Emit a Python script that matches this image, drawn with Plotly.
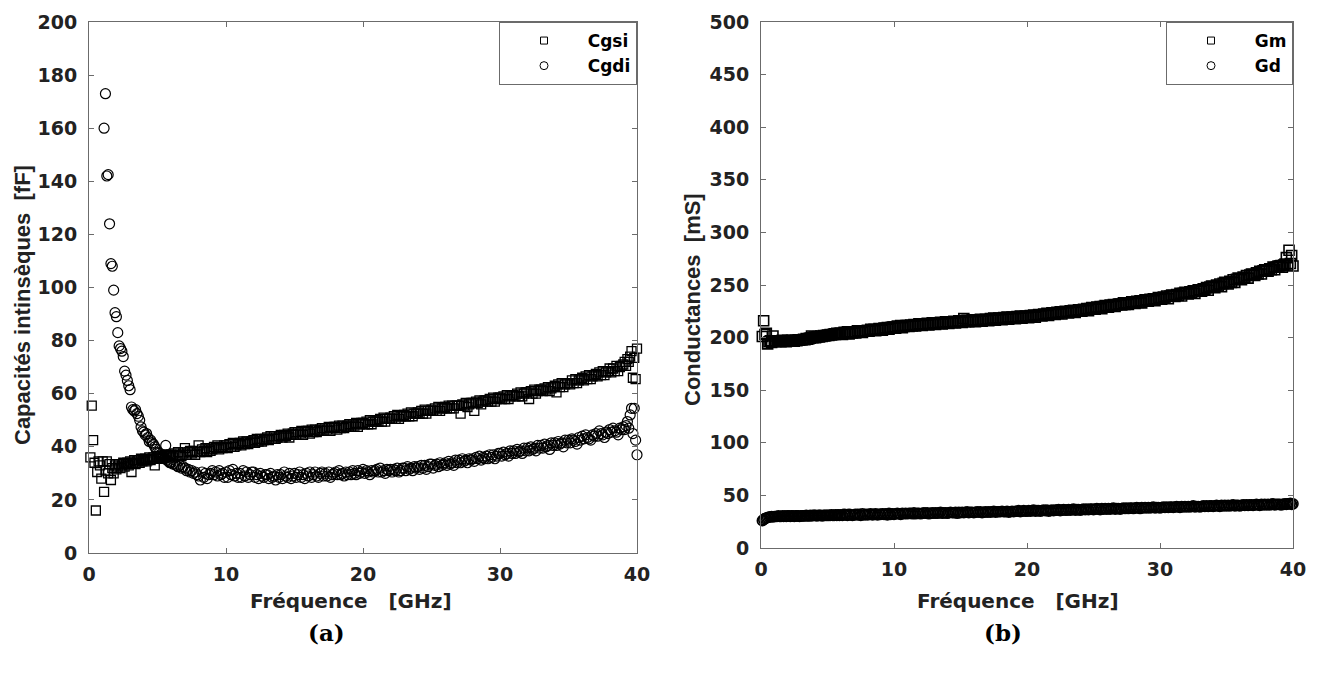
import plotly.graph_objects as go

# ---------------- data ----------------
freq = [
    0.1, 0.2, 0.3, 0.4, 0.5, 0.6, 0.7, 0.8, 0.9, 1.0,
    1.1, 1.2, 1.3, 1.4, 1.5, 1.6, 1.7, 1.8, 1.9, 2.0,
    2.1, 2.2, 2.3, 2.4, 2.5, 2.6, 2.7, 2.8, 2.9, 3.0,
    3.1, 3.2, 3.3, 3.4, 3.5, 3.6, 3.7, 3.8, 3.9, 4.0,
    4.1, 4.2, 4.3, 4.4, 4.5, 4.6, 4.7, 4.8, 4.9, 5.0,
    5.1, 5.2, 5.3, 5.4, 5.5, 5.6, 5.7, 5.8, 5.9,
    6.0, 6.125, 6.25, 6.375, 6.5, 6.625, 6.75, 6.875,
    7.0, 7.125, 7.25, 7.375, 7.5, 7.625, 7.75, 7.875,
    8.0, 8.125, 8.25, 8.375, 8.5, 8.625, 8.75, 8.875,
    9.0, 9.125, 9.25, 9.375, 9.5, 9.625, 9.75, 9.875,
    10.0, 10.125, 10.25, 10.375, 10.5, 10.625, 10.75, 10.875,
    11.0, 11.125, 11.25, 11.375, 11.5, 11.625, 11.75, 11.875,
    12.0, 12.125, 12.25, 12.375, 12.5, 12.625, 12.75, 12.875,
    13.0, 13.125, 13.25, 13.375, 13.5, 13.625, 13.75, 13.875,
    14.0, 14.125, 14.25, 14.375, 14.5, 14.625, 14.75, 14.875,
    15.0, 15.125, 15.25, 15.375, 15.5, 15.625, 15.75, 15.875,
    16.0, 16.125, 16.25, 16.375, 16.5, 16.625, 16.75, 16.875,
    17.0, 17.125, 17.25, 17.375, 17.5, 17.625, 17.75, 17.875,
    18.0, 18.125, 18.25, 18.375, 18.5, 18.625, 18.75, 18.875,
    19.0, 19.125, 19.25, 19.375, 19.5, 19.625, 19.75, 19.875,
    20.0, 20.125, 20.25, 20.375, 20.5, 20.625, 20.75, 20.875,
    21.0, 21.125, 21.25, 21.375, 21.5, 21.625, 21.75, 21.875,
    22.0, 22.125, 22.25, 22.375, 22.5, 22.625, 22.75, 22.875,
    23.0, 23.125, 23.25, 23.375, 23.5, 23.625, 23.75, 23.875,
    24.0, 24.125, 24.25, 24.375, 24.5, 24.625, 24.75, 24.875,
    25.0, 25.125, 25.25, 25.375, 25.5, 25.625, 25.75, 25.875,
    26.0, 26.125, 26.25, 26.375, 26.5, 26.625, 26.75, 26.875,
    27.0, 27.125, 27.25, 27.375, 27.5, 27.625, 27.75, 27.875,
    28.0, 28.125, 28.25, 28.375, 28.5, 28.625, 28.75, 28.875,
    29.0, 29.125, 29.25, 29.375, 29.5, 29.625, 29.75, 29.875,
    30.0, 30.125, 30.25, 30.375, 30.5, 30.625, 30.75, 30.875,
    31.0, 31.125, 31.25, 31.375, 31.5, 31.625, 31.75, 31.875,
    32.0, 32.125, 32.25, 32.375, 32.5, 32.625, 32.75, 32.875,
    33.0, 33.125, 33.25, 33.375, 33.5, 33.625, 33.75, 33.875,
    34.0, 34.125, 34.25, 34.375, 34.5, 34.625, 34.75, 34.875,
    35.0, 35.125, 35.25, 35.375, 35.5, 35.625, 35.75, 35.875,
    36.0, 36.125, 36.25, 36.375, 36.5, 36.625, 36.75, 36.875,
    37.0, 37.125, 37.25, 37.375, 37.5, 37.625, 37.75, 37.875,
    38.0, 38.125, 38.25, 38.375, 38.5, 38.625, 38.75, 38.875,
    39.0, 39.1, 39.2, 39.3, 39.4, 39.5, 39.6, 39.7, 39.8, 39.9, 40.0,
]

cgsi = [
    36, 55.5, 42.5, 34, 16, 30.5, 34.5, 33, 28, 34.5,
    23, 31, 34.5, 30, 33.5, 27.5, 32, 30, 33, 31.5,
    32.5, 33.5, 32, 33, 34, 32.5, 33.5, 34, 33, 34.5,
    30.5, 34, 35, 33.5, 34.5, 35, 34, 35.5, 34.5, 35,
    35.5, 34.5, 35, 36, 35, 35.5, 36, 33, 35.5, 36,
    35.5, 36.5, 35.5, 36, 37, 36, 36.5, 37, 36.5,
    37, 36, 37.5, 36.5, 38, 37, 36.5, 37.5,
    39.5, 37, 38, 38.5, 37.5, 38.5, 37, 38,
    40.5, 38, 39, 38.5, 39.5, 38, 39, 38.5,
    39, 40, 39.5, 40.5, 39, 40, 39.5, 40.5,
    40.5, 39.5, 41, 40, 41.5, 40, 40.5, 41,
    41.5, 40.5, 42, 41, 42, 41, 41.5, 42,
    42.5, 41.5, 43, 42, 43, 42, 42.5, 43,
    43.5, 42.5, 44, 43, 44, 43, 43.5, 44,
    44.5, 43.5, 44.5, 44, 45, 43.5, 44.5, 45,
    45.5, 44.5, 45.5, 45, 46, 44.5, 45.5, 46,
    46, 45, 46.5, 45.5, 46.5, 45.5, 46, 46.5,
    47, 46, 47, 46.5, 47.5, 46, 47, 47.5,
    47.5, 46.5, 48, 47, 48, 47, 47.5, 48,
    48.5, 47.5, 48.5, 48, 49, 47.5, 48.5, 49,
    49, 48.5, 49.5, 48.5, 50, 48.5, 49.5, 49.5,
    50, 49.5, 50.5, 49.5, 51, 49.5, 50.5, 50.5,
    51, 50.5, 51.5, 50.5, 52, 50.5, 51.5, 51.5,
    52, 51.5, 52.5, 51.5, 53, 51.5, 52.5, 52.5,
    53, 52.5, 53.5, 52.5, 54, 52.5, 53.5, 53.5,
    54, 53.5, 54.5, 53.5, 55, 53.5, 54.5, 54.5,
    55, 54.5, 55.5, 54.5, 55.5, 54.5, 55.5, 55.5,
    55.5, 52.5, 56, 55.5, 56.5, 55, 56, 56.5,
    56.5, 53.5, 57, 56.5, 57.5, 56, 57, 57.5,
    57.5, 57, 58, 57, 58.5, 57, 58, 58.5,
    58.5, 58, 59, 58, 59.5, 58, 59, 59.5,
    59.5, 59, 60, 59, 60.5, 59, 60, 60.5,
    60.5, 58, 61, 60, 61.5, 60, 61, 61.5,
    61.5, 61, 62, 61.5, 62.5, 61, 62, 62.5,
    63, 60.5, 63.5, 62.5, 64, 62.5, 63.5, 64,
    64, 63.5, 65, 64, 65.5, 64, 65, 65.5,
    66, 65, 66.5, 65.5, 67, 65.5, 66.5, 67,
    67.5, 66.5, 68, 67, 68.5, 67, 68, 68.5,
    69.5, 68, 69.5, 68.5, 70.5, 68.5, 70, 70.5,
    71, 72, 70.5, 73, 72, 74, 76, 66, 73.5, 65.5, 77,
]

cgdi = [
    None, None, None, None, None, None, None, None, None, None,
    160, 173, 142, 142.5, 124, 109, 108, 99, 90.5, 89,
    83, 78, 77, 76, 74, 68.5, 67, 65, 63, 61.5,
    55, 54, 53.5, 54, 52.5, 51.5, 50, 47.5, 46, 45.5,
    44.5, 45, 43.5, 42, 42.5, 41.5, 41, 40, 39, 38,
    37.5, 37, 36.5, 36, 35.5, 40.5, 35, 34.5, 34,
    34, 33.5, 33.5, 33, 32.5, 33, 32, 32.5,
    32, 31, 31.5, 30.5, 31, 30, 30.5, 29.5,
    29, 27.5, 30.5, 28.5, 30, 28, 29.5, 30,
    31, 29.5, 30.5, 29, 31, 29.5, 30, 28.5,
    30.5, 28.5, 31, 29.5, 31.5, 29, 30, 28.5,
    30, 28.5, 31, 29, 30.5, 28.5, 29.5, 30.5,
    30.5, 28.5, 29.5, 28, 30, 29, 28.5, 29.5,
    29.5, 28, 30, 28.5, 29, 27.5, 29.5, 28.5,
    29.5, 28, 30.5, 29, 28.5, 30, 28, 29,
    30, 28.5, 29.5, 30.5, 28.5, 29.5, 28, 30,
    29, 30.5, 28.5, 29.5, 30.5, 29, 28.5, 30,
    30.5, 29, 30, 29, 30.5, 28.5, 29.5, 30,
    30.5, 29.5, 31, 29.5, 30, 29, 30.5, 29.5,
    30.5, 29.5, 31, 30, 29.5, 31, 30, 30.5,
    31.5, 30, 31, 30.5, 29.5, 31, 30.5, 31,
    31.5, 30.5, 32, 30.5, 31, 30, 31.5, 31,
    31.5, 30.5, 31.5, 31, 32, 30.5, 31, 32,
    32, 31, 32.5, 31.5, 32, 31, 32.5, 32,
    32.5, 31.5, 33, 32, 33, 31.5, 32.5, 33.5,
    33.5, 32, 33, 33.5, 32.5, 34, 33, 33.5,
    34, 33, 34.5, 33.5, 34, 33, 35, 34,
    35, 34, 35.5, 34.5, 35, 34, 35.5, 35,
    35.5, 34.5, 36, 35.5, 36.5, 35, 36, 35.5,
    36.5, 35.5, 37, 36, 37, 35.5, 36.5, 37.5,
    37.5, 36.5, 38, 37, 37.5, 36.5, 38.5, 37.5,
    38.5, 37.5, 39, 38, 38.5, 37.5, 39.5, 38.5,
    39.5, 38.5, 40, 39, 39.5, 38.5, 40.5, 39.5,
    40.5, 39.5, 41, 40, 40.5, 39, 41.5, 40.5,
    41.5, 40.5, 42, 41, 41.5, 40, 42.5, 41.5,
    42.5, 41.5, 43, 42.5, 42, 41, 43.5, 42.5,
    44, 43, 44.5, 43.5, 43, 42.5, 44.5, 44,
    45, 44, 46, 45, 44.5, 43.5, 45.5, 45,
    46.5, 45.5, 47, 46, 45.5, 44.5, 47, 46.5,
    47.5, 46.5, 48, 49.5, 47, 52, 54.5, 45, 54.5, 42.5, 37,
]

gm = [
    201, 216, 203, 204, 194, 196, 197, 195.5, 201.5, 196.5,
    196, 197, 196.5, 197, 196, 197.5, 196.5, 197, 196, 197.5,
    197, 196.5, 197.5, 197, 196.5, 197.5, 197, 198, 197.5, 198,
    198, 198.5, 198, 199, 198.5, 199, 199.5, 201.5, 200, 200.5,
    200, 200.5, 201, 200.5, 201.5, 201, 202, 201.5, 202, 202.5,
    202, 203, 202.5, 203, 203.5, 203, 204, 203.5, 204,
    204, 203, 205, 204, 205.5, 203.5, 205, 204.5,
    205.5, 204.5, 206.5, 205.5, 206.5, 205, 206.5, 206,
    207, 206, 208, 207, 208, 206.5, 207.5, 208.5,
    208, 207, 209, 208.5, 209.5, 208, 209.5, 210,
    210, 209, 211, 210, 211.5, 209.5, 210.5, 211.5,
    211.5, 210.5, 212, 211, 212.5, 211, 212, 213,
    212.5, 211.5, 213, 212.5, 213.5, 212, 213, 214,
    213.5, 212.5, 214, 213.5, 214.5, 213, 214, 215,
    214.5, 213.5, 215, 214.5, 215.5, 214, 215, 216,
    215.5, 214.5, 218, 215, 216.5, 215, 216, 217,
    216, 215, 217, 216, 217.5, 215.5, 216.5, 217.5,
    217, 216, 218, 217, 218.5, 216.5, 217.5, 218.5,
    218, 217, 219, 218, 219.5, 217.5, 218.5, 219.5,
    219, 218, 220, 219, 220.5, 218.5, 219.5, 220.5,
    220, 219, 221, 220, 221.5, 219.5, 221, 222,
    221.5, 220.5, 222.5, 221.5, 223, 221, 222.5, 223.5,
    223, 222, 224, 223, 224.5, 222.5, 224, 225,
    224.5, 223.5, 225.5, 224.5, 226, 224, 225.5, 226.5,
    226, 225, 227, 226, 227.5, 225.5, 227.5, 228.5,
    228, 227, 229, 228, 229.5, 227.5, 229.5, 230.5,
    230, 229, 231, 230, 231.5, 229.5, 231, 232,
    232, 231, 233, 231.5, 233, 231.5, 233, 234,
    233.5, 232.5, 234.5, 233.5, 235, 233, 235, 236,
    235.5, 234.5, 236.5, 235.5, 237, 235, 237, 238,
    237.5, 236.5, 238.5, 237.5, 239.5, 237, 239.5, 240.5,
    240, 239, 241, 240, 242, 239.5, 242, 243,
    242.5, 241.5, 243.5, 242.5, 244.5, 242, 244.5, 245.5,
    245, 244, 246.5, 245.5, 247.5, 245, 248, 249,
    248.5, 247.5, 250, 249, 251, 248.5, 251.5, 252.5,
    252, 251, 253.5, 252.5, 255, 252.5, 255.5, 256.5,
    256, 255, 257.5, 256.5, 259, 256.5, 259.5, 260.5,
    260, 259, 261.5, 260.5, 263, 260.5, 263.5, 264.5,
    264, 263, 265.5, 264.5, 267, 264.5, 267, 268,
    268, 268.5, 267, 269, 270, 276, 269, 283, 270.5, 278, 268,
]

gd = [
    26, 27, 28, 28.5, 29, 29.5, 29.5, 30, 29.5, 30,
    30, 30, 30.5, 30, 30, 30.5, 30, 30.5, 30, 30.5,
    30.5, 30, 30.5, 30.5, 30, 30.5, 30.5, 30.5, 30, 30.5,
    30.5, 30.5, 30.5, 31, 30.5, 30.5, 31, 30.5, 31, 31,
    31, 30.5, 31, 31, 31, 30.5, 31, 31, 31, 31,
    31, 31, 31.5, 31, 31, 31.5, 31, 31.5, 31,
    31.5, 31, 32, 31.5, 31, 32, 31.5, 31,
    31.5, 32, 31.5, 32, 31, 32.5, 31.5, 32,
    31.5, 32, 32.5, 31.5, 32, 32.5, 31.5, 32,
    32, 32.5, 32, 32.5, 31.5, 33, 32, 32.5,
    32, 32.5, 33, 32.5, 32, 33, 32.5, 33,
    32.5, 33, 33, 32.5, 33.5, 32.5, 33, 33,
    32.5, 33, 33.5, 33, 33.5, 32.5, 33, 33.5,
    33, 33.5, 33, 33.5, 34, 33, 33.5, 33.5,
    33, 33.5, 34, 33.5, 33.5, 34, 33, 34,
    33.5, 34, 33.5, 34, 34.5, 33.5, 34, 34,
    33.5, 34, 34.5, 34, 34.5, 33.5, 34, 34.5,
    34, 34.5, 34, 34.5, 35, 34, 34.5, 34.5,
    34.5, 35, 34.5, 34.5, 35, 34, 34.5, 35,
    34.5, 35, 35, 35.5, 34.5, 35, 35.5, 35,
    35, 35.5, 35, 35.5, 36, 35, 35.5, 35.5,
    35, 35.5, 36, 35.5, 36, 35, 35.5, 36,
    35.5, 36, 36, 36.5, 35.5, 36, 36.5, 36,
    36, 36.5, 36, 36.5, 37, 36, 36.5, 36.5,
    36, 36.5, 37, 36.5, 37, 36.5, 37, 37,
    36.5, 37, 37.5, 37, 36.5, 37.5, 37, 37.5,
    37, 37.5, 37, 37.5, 38, 37, 37.5, 37.5,
    37, 37.5, 38, 37.5, 38, 37.5, 38, 38,
    37.5, 38, 38.5, 38, 37.5, 38.5, 38, 38.5,
    38, 38.5, 38, 38.5, 39, 38, 38.5, 38.5,
    38, 38.5, 39, 38.5, 39, 38.5, 39, 39,
    38.5, 39, 39.5, 39, 38.5, 39.5, 39, 39.5,
    39, 39.5, 39, 39.5, 40, 39, 39.5, 39.5,
    39, 39.5, 40, 39.5, 40, 39.5, 40, 40,
    39.5, 40, 40.5, 40, 39.5, 40.5, 40, 40.5,
    40, 40.5, 40, 40.5, 41, 40, 40.5, 40.5,
    40, 40.5, 41, 40.5, 41, 40.5, 41, 41,
    40.5, 41, 41.5, 41, 40.5, 41.5, 41, 41.5,
    41, 41.5, 41, 41.5, 42, 41, 41.5, 41.5,
    41.5, 41, 41.5, 41.5, 42, 41.5, 42, 42, 42.5, 41.5, 42,
]

for name, s in [("cgsi", cgsi), ("cgdi", cgdi), ("gm", gm), ("gd", gd)]:
    assert len(s) == len(freq), (name, len(s), len(freq))

x_ticks = [0, 10, 20, 30, 40]
y1_ticks = [0, 20, 40, 60, 80, 100, 120, 140, 160, 180, 200]
y2_ticks = [0, 50, 100, 150, 200, 250, 300, 350, 400, 450, 500]

# ---------------- layout geometry (pixels) ----------------
W, H = 1319, 677
L1, R1, L2, R2 = 89, 637, 761, 1293
TOP, B1, B2 = 22, 553, 548

AX = "#6b6b6b"
TICKFONT = dict(family="DejaVu Sans", size=19, color="#222222", weight="bold")

fig = go.Figure()

def add_series(x, y, symbol, size, xa, ya, lw):
    fig.add_trace(go.Scatter(
        x=x, y=y, mode="markers", xaxis=xa, yaxis=ya, showlegend=False,
        cliponaxis=False,
        marker=dict(symbol=symbol, size=size, color="black",
                    line=dict(color="black", width=lw)),
    ))

def add_legend_entry(name, symbol, size, xa, ya, leg):
    fig.add_trace(go.Scatter(
        x=[None], y=[None], mode="markers", xaxis=xa, yaxis=ya, name=name,
        legend=leg, showlegend=True,
        marker=dict(symbol=symbol, size=size, color="black",
                    line=dict(color="black", width=1)),
    ))

add_series(freq, cgsi, "square-open", 9, "x", "y", 1.3)
add_series(freq, cgdi, "circle-open", 10, "x", "y", 1.2)
add_series(freq, gm, "square-open", 10, "x2", "y2", 1.6)
add_series(freq, gd, "circle-open", 10, "x2", "y2", 1.6)

NB = "\u00a0"
add_legend_entry(NB * 4 + "Cgsi", "square-open", 7, "x", "y", "legend")
add_legend_entry(NB * 4 + "Cgdi", "circle-open", 8, "x", "y", "legend")
add_legend_entry(NB * 4 + "Gm", "square-open", 7, "x2", "y2", "legend2")
add_legend_entry(NB * 4 + "Gd", "circle-open", 8, "x2", "y2", "legend2")

def axis(**kw):
    d = dict(showline=True, linecolor=AX, linewidth=1, mirror="ticks",
             ticks="inside", ticklen=5, tickcolor=AX, tickwidth=1,
             showgrid=False, zeroline=False, tickfont=TICKFONT, fixedrange=True,
             automargin=False)
    d.update(kw)
    return d

leg_common = dict(
    xanchor="right", yanchor="top", y=1 - TOP / H,
    bgcolor="white", bordercolor=AX, borderwidth=1,
    font=dict(family="DejaVu Sans", size=17, color="black", weight="bold"),
    indentation=24, tracegroupgap=0,
)

fig.update_layout(
    width=W, height=H, autosize=False,
    margin=dict(l=0, r=0, t=0, b=0, pad=0, autoexpand=False),
    paper_bgcolor="white", plot_bgcolor="white",
    xaxis=axis(domain=[L1 / W, R1 / W], range=[0, 40], tickvals=x_ticks, anchor="y",
               ticklabelstandoff=4),
    yaxis=axis(domain=[(H - B1) / H, (H - TOP) / H], range=[0, 200], tickvals=y1_ticks,
               anchor="x", ticklabelstandoff=7),
    xaxis2=axis(domain=[L2 / W, R2 / W], range=[0, 40], tickvals=x_ticks, anchor="y2",
                ticklabelstandoff=4),
    yaxis2=axis(domain=[(H - B2) / H, (H - TOP) / H], range=[0, 500], tickvals=y2_ticks,
                anchor="x2", ticklabelstandoff=7),
    legend=dict(x=R1 / W, **leg_common),
    legend2=dict(x=R2 / W, **leg_common),
)

def ann(text, xpx, ypx, font, angle=0):
    fig.add_annotation(text=text, x=xpx / W, y=1 - ypx / H, xref="paper", yref="paper",
                       showarrow=False, textangle=angle, font=font,
                       xanchor="center", yanchor="middle")

XT = dict(family="DejaVu Sans", size=20, color="#222222", weight="bold")
YT = dict(family="Liberation Sans", size=22, color="#222222", weight="bold")
CAP = dict(family="DejaVu Serif", size=23, color="black", weight="bold")

ann("Fréquence" + NB * 3 + "[GHz]", 351, 601, XT)
ann("Fréquence" + NB * 3 + "[GHz]", 1018, 601, XT)
ann("Capacités intinsèques" + NB * 2 + "[fF]", 22, 305, YT, -90)
ann("Conductances" + NB * 2 + "[mS]", 692, 300, YT, -90)
ann("(a)", 326, 632, CAP)
ann("(b)", 1003, 632, CAP)

fig.write_html("out.html")
